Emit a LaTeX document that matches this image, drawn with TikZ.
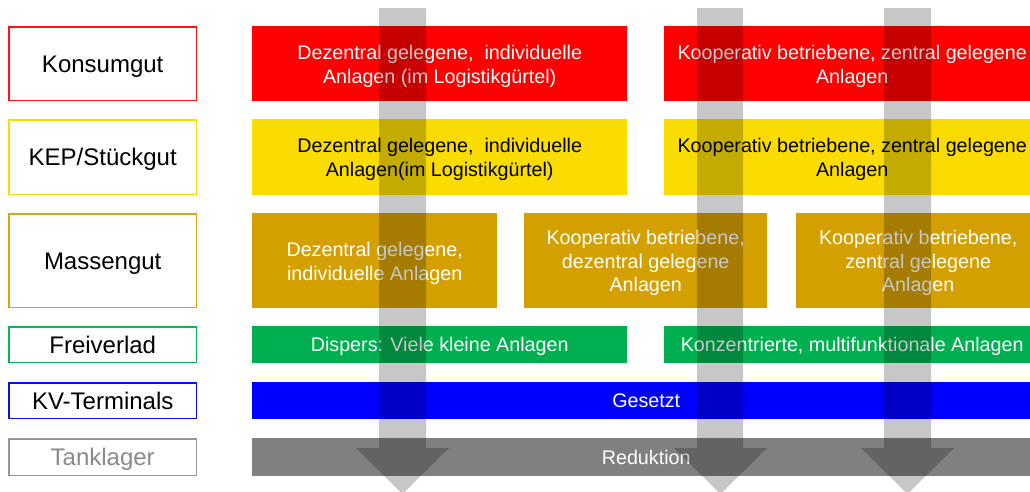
\documentclass[tikz,border=0pt]{standalone}
\usepackage{fontspec}
\setmainfont{Liberation Sans}
% bar fills
\definecolor{cRed}{RGB}{255,0,0}
\definecolor{cYellow}{RGB}{250,220,0}
\definecolor{cMass}{RGB}{212,160,0}
\definecolor{cGreen}{RGB}{0,176,80}
\definecolor{cBlue}{RGB}{0,0,255}
\definecolor{cGray}{RGB}{128,128,128}
% frame colours of the category boxes
\definecolor{lnRed}{RGB}{255,20,20}
\definecolor{lnYellow}{RGB}{250,220,0}
\definecolor{lnMass}{RGB}{218,166,10}
\definecolor{lnGreen}{RGB}{10,180,90}
\definecolor{lnBlue}{RGB}{10,10,255}
\definecolor{lnGray}{RGB}{150,150,150}
\definecolor{txGray}{RGB}{138,138,138}
\begin{document}
\begin{tikzpicture}[x=1pt,y=-1pt,
  % framed box: coloured area with a white inner panel, 1.4pt rim
  catbox/.style={fill=#1, draw=none, anchor=north west,
    minimum width=189pt, inner sep=0pt, text=black,
    text height=17.2pt, text depth=0pt,
    font=\fontsize{24}{28}\selectfont,
    path picture={\fill[white]
      ([shift={(1.4pt,-1.4pt)}]path picture bounding box.north west) rectangle
      ([shift={(-1.4pt,1.4pt)}]path picture bounding box.south east);}},
  bar/.style={fill=#1, draw=none, anchor=north west, inner sep=0pt},
  btext/.style={text=white, align=center, inner sep=0pt,
    font=\fontsize{19.7}{23.6}\selectfont},
  flow/.style={fill=black, fill opacity=0.22, draw=none}
]
\clip (0,0) rectangle (1030,491);

% category labels on the left
\node[catbox=lnRed, minimum height=75pt] (konsum) at (8,26) {Konsumgut};
\node[catbox=lnYellow, minimum height=76pt] (kep) at (8,119) {KEP/Stückgut};
\node[catbox=lnMass, minimum height=95pt] (masse) at (8,213) {Massengut};
\node[catbox=lnGreen, minimum height=37pt] (frei) at (8,326) {Freiverlad};
\node[catbox=lnBlue, minimum height=37pt] (kv) at (8,382) {KV-Terminals};
\node[catbox=lnGray, minimum height=38pt, text=txGray] (tank) at (8,438) {Tanklager};

% Konsumgut
\node[bar=cRed, minimum width=375pt, minimum height=75pt,
  label={[btext, yshift=-2.5pt]center:{Dezentral gelegene,\ \ individuelle\\Anlagen (im Logistikgürtel)}}]
  (r1) at (252,26) {};
\node[bar=cRed, minimum width=376pt, minimum height=75pt,
  label={[btext, yshift=-2.5pt]center:{Kooperativ betriebene, zentral gelegene\\Anlagen}}]
  (r2) at (664,26) {};

% KEP/Stueckgut
\node[bar=cYellow, minimum width=375pt, minimum height=76pt,
  label={[btext, text=black, yshift=-2.5pt]center:{Dezentral gelegene,\ \ individuelle\\Anlagen(im Logistikgürtel)}}]
  (y1) at (252,119) {};
\node[bar=cYellow, minimum width=376pt, minimum height=76pt,
  label={[btext, text=black, yshift=-2.5pt]center:{Kooperativ betriebene, zentral gelegene\\Anlagen}}]
  (y2) at (664,119) {};

% Massengut
\node[bar=cMass, minimum width=245pt, minimum height=95pt,
  label={[btext, yshift=-2.5pt]center:{Dezentral gelegene,\\individuelle Anlagen}}]
  (m1) at (252,213) {};
\node[bar=cMass, minimum width=243pt, minimum height=95pt,
  label={[btext, yshift=-2.5pt]center:{Kooperativ betriebene,\\dezentral gelegene\\Anlagen}}]
  (m2) at (524,213) {};
\node[bar=cMass, minimum width=244pt, minimum height=95pt,
  label={[btext, yshift=-2.5pt]center:{Kooperativ betriebene,\\zentral gelegene\\Anlagen}}]
  (m3) at (796,213) {};

% Freiverlad
\node[bar=cGreen, minimum width=375pt, minimum height=37pt,
  label={[btext, text height=14.1pt, text depth=0pt]center:{Dispers: Viele kleine Anlagen}}]
  (g1) at (252,326) {};
\node[bar=cGreen, minimum width=376pt, minimum height=37pt,
  label={[btext, text height=14.1pt, text depth=0pt]center:{Konzentrierte, multifunktionale Anlagen}}]
  (g2) at (664,326) {};

% KV-Terminals
\node[bar=cBlue, minimum width=788pt, minimum height=37pt,
  label={[btext, text height=14.1pt, text depth=0pt]center:{Gesetzt}}]
  (b1) at (252,382) {};

% Tanklager
\node[bar=cGray, minimum width=788pt, minimum height=38pt,
  label={[btext, text height=14.1pt, text depth=0pt]center:{Reduktion}}]
  (t1) at (252,438) {};

% translucent downward arrows
\fill[flow] (379,8) -- (426,8) -- (426,448) -- (449,448) -- (402.5,494)
  -- (356,448) -- (379,448) -- cycle;
\fill[flow] (697,8) -- (743,8) -- (743,448) -- (767,448) -- (720.5,494)
  -- (674,448) -- (697,448) -- cycle;
\fill[flow] (884,8) -- (931,8) -- (931,448) -- (954,448) -- (907.5,494)
  -- (861,448) -- (884,448) -- cycle;
\end{tikzpicture}
\end{document}
